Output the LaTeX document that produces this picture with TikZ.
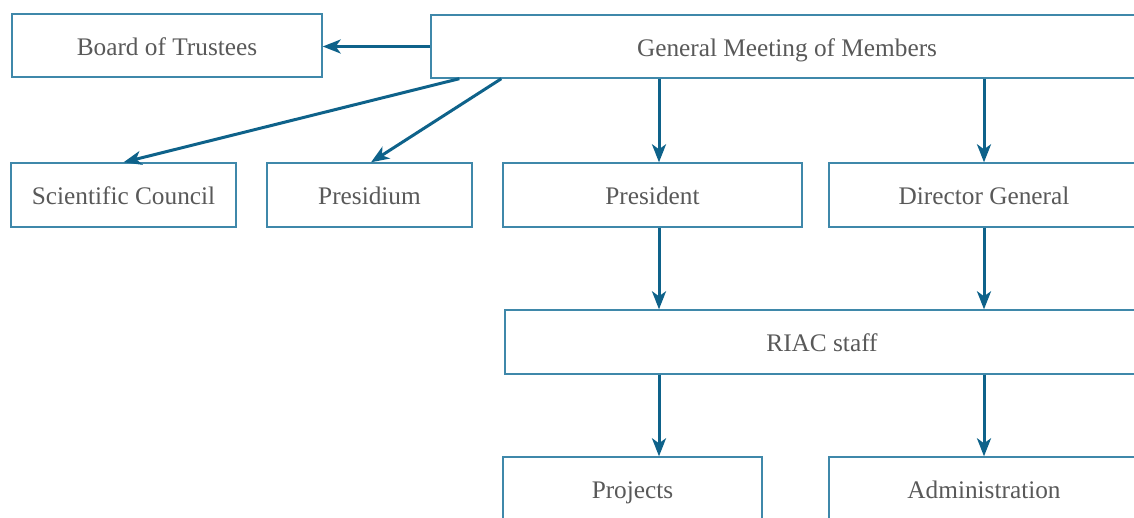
\documentclass[tikz,border=0pt]{standalone}
\usepackage{fontspec}
\setmainfont{Liberation Serif}
\usetikzlibrary{arrows.meta,calc}
\definecolor{boxc}{HTML}{3F88AA}
\definecolor{arrc}{HTML}{0E628A}
\definecolor{txtc}{HTML}{595959}
\begin{document}
\begin{tikzpicture}[x=1pt,y=-1pt,
  orgbox/.style={draw=boxc,line width=1.4pt,fill=white,inner sep=0pt,
    text=txtc,font=\fontsize{25.3}{29}\selectfont,text height=22pt,text depth=3pt},
  arr/.style={draw=arrc,line width=3pt,-{Stealth[length=18pt,width=14pt,inset=5pt]}}]
\useasboundingbox (0,0) rectangle (1134,517);
\clip (0,0) rectangle (1134,517);
\node[orgbox,minimum width=310pt,minimum height=63pt] (bot) at (167,45.5) {Board of Trustees};
\node[orgbox,minimum width=712pt,minimum height=63pt] (gm) at (787,46.5) {General Meeting of Members};
\node[orgbox,minimum width=225pt,minimum height=64pt] (sci) at (123.5,195) {Scientific Council};
\node[orgbox,minimum width=205pt,minimum height=64pt] (prd) at (369.5,195) {Presidium};
\node[orgbox,minimum width=299pt,minimum height=64pt] (pres) at (652.5,195) {President};
\node[orgbox,minimum width=310pt,minimum height=64pt] (dg) at (984,195) {Director General};
\node[orgbox,minimum width=634pt,minimum height=64pt] (riac) at (822,342) {RIAC staff};
\node[orgbox,minimum width=259pt,minimum height=64pt] (proj) at (632.5,489) {Projects};
\node[orgbox,minimum width=310pt,minimum height=64pt] (adm) at (984,489) {Administration};
\coordinate (pcol) at (659,0);
\coordinate (dcol) at (984,0);
\draw[arr] (gm.west) -- (gm.west -| bot.east);
\draw[arr] ($(gm.south west)+(29,0)$) -- (sci.north);
\draw[arr] ($(gm.south west)+(71,0)$) -- ($(prd.north)+(1.5,0)$);
\draw[arr] (gm.south -| pcol) -- (pres.north -| pcol);
\draw[arr] (gm.south -| dcol) -- (dg.north -| dcol);
\draw[arr] (pres.south -| pcol) -- (riac.north -| pcol);
\draw[arr] (dg.south -| dcol) -- (riac.north -| dcol);
\draw[arr] (riac.south -| pcol) -- (proj.north -| pcol);
\draw[arr] (riac.south -| dcol) -- (adm.north -| dcol);
\end{tikzpicture}
\end{document}
